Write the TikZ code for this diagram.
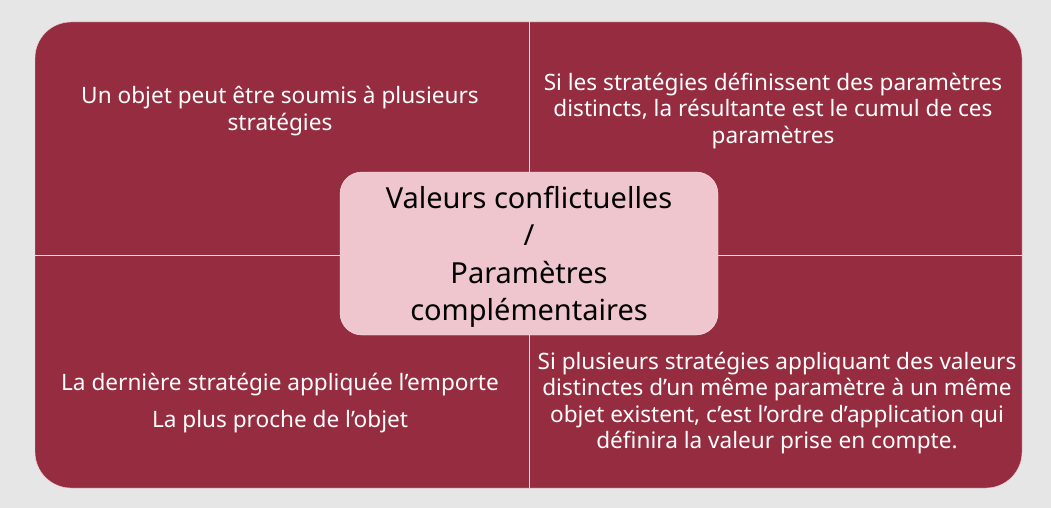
\documentclass[tikz,border=0pt]{standalone}
\usepackage{fontspec}
\setmainfont{Noto Sans}
\usepackage{tikz}
\usetikzlibrary{positioning}
\definecolor{bordeaux}{HTML}{962C3F}
\definecolor{rosepale}{HTML}{F0C6CE}
\definecolor{fond}{HTML}{E6E6E6}
\tikzset{
  quadtext/.style={text=white, align=center, font=\fontsize{22.6}{26.4}\selectfont, inner sep=0pt},
  centertext/.style={text=black, align=center, font=\fontsize{29}{37.5}\selectfont}
}

\begin{document}
\begin{tikzpicture}[x=1pt, y=-1pt]
    \fill[fond] (0,0) rectangle (1051,508);
    \useasboundingbox (0,0) rectangle (1051,508);
    \draw[fill=bordeaux, draw=rosepale!70, rounded corners=36pt] (35,22) rectangle (1022,488);
    \draw[draw=white!85!bordeaux, line width=1pt] (529,22) -- (529,488);
    \draw[draw=white!85!bordeaux, line width=1pt] (35,255) -- (1022,255);
    \node[quadtext] (hg) at (280,111) {Un objet peut être soumis à plusieurs\\stratégies};
    \node[quadtext] (hd) at (773,111) {Si les stratégies définissent des paramètres\\distincts, la résultante est le cumul de ces\\paramètres};
    \node[quadtext, font=\fontsize{22.6}{37}\selectfont] (bg) at (280,403) {La dernière stratégie appliquée l’emporte\\La plus proche de l’objet};
    \node[quadtext] (bd) at (777,403) {Si plusieurs stratégies appliquant des valeurs\\distinctes d’un même paramètre à un même\\objet existent, c’est l’ordre d’application qui\\définira la valeur prise en compte.};
    \draw[fill=rosepale, draw=white!60!rosepale, rounded corners=22pt] (340,172) rectangle (718,335);
    \node[centertext] (centre) at (529,257) {Valeurs conflictuelles\\/\\Paramètres\\complémentaires};
  \end{tikzpicture}
\end{document}
